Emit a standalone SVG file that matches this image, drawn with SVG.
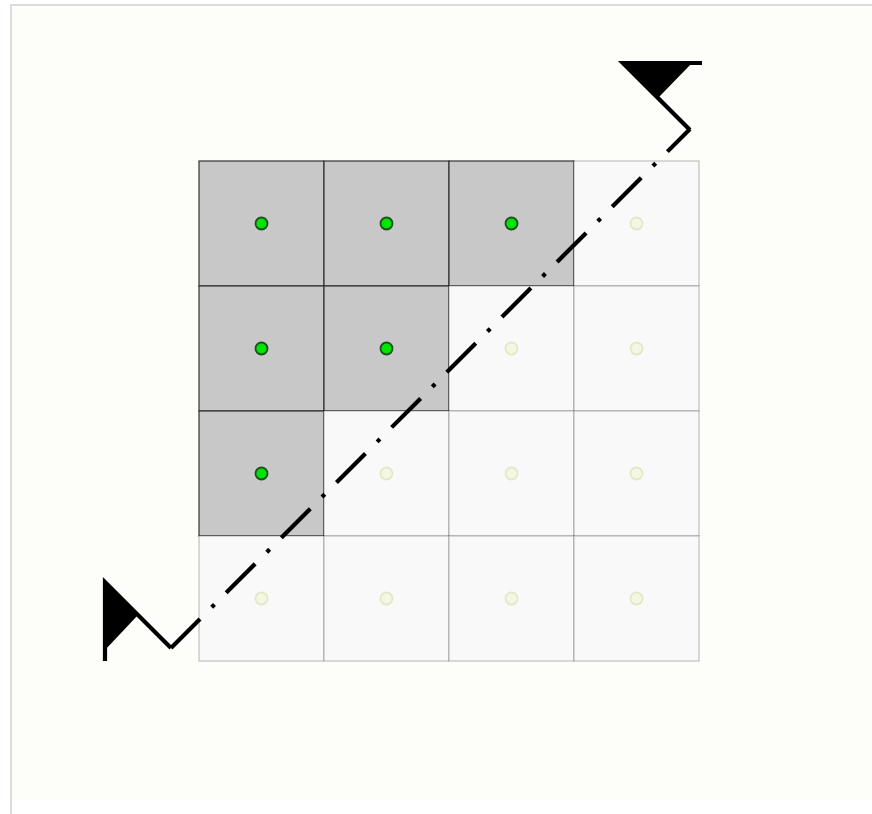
<svg xmlns="http://www.w3.org/2000/svg" width="872" height="814" viewBox="0 0 872 814">
<style>
.dark{fill:#c8c8c8;stroke:#333;stroke-width:1.2}
.light{fill:#f9f9fa;stroke:rgba(0,0,0,0.24);stroke-width:1.2}
.on{fill:#00e600;stroke:#1f4f1f;stroke-width:1.8}
.off{fill:#f5f7e4;stroke:#e3e9c6;stroke-width:1.8}
.cut{fill:none;stroke:#000;stroke-width:4.2}
.tri{fill:#000}
</style>
<rect x="0" y="0" width="872" height="814" fill="#ffffff"/>
<rect x="11" y="5" width="861" height="795" fill="#fdfdfa"/>
<path d="M11,814 V5 H872" fill="none" stroke="#dcdcdc" stroke-width="2"/>
<g id="cells">
<g id="c00"><rect class="dark" x="199" y="161" width="125" height="125"/><circle class="on" cx="261.5" cy="223.5" r="6"/></g>
<g id="c01"><rect class="dark" x="324" y="161" width="125" height="125"/><circle class="on" cx="386.5" cy="223.5" r="6"/></g>
<g id="c02"><rect class="dark" x="449" y="161" width="125" height="125"/><circle class="on" cx="511.5" cy="223.5" r="6"/></g>
<g id="c03"><rect class="light" x="574" y="161" width="125" height="125"/><circle class="off" cx="636.5" cy="223.5" r="6"/></g>
<g id="c10"><rect class="dark" x="199" y="286" width="125" height="125"/><circle class="on" cx="261.5" cy="348.5" r="6"/></g>
<g id="c11"><rect class="dark" x="324" y="286" width="125" height="125"/><circle class="on" cx="386.5" cy="348.5" r="6"/></g>
<g id="c12"><rect class="light" x="449" y="286" width="125" height="125"/><circle class="off" cx="511.5" cy="348.5" r="6"/></g>
<g id="c13"><rect class="light" x="574" y="286" width="125" height="125"/><circle class="off" cx="636.5" cy="348.5" r="6"/></g>
<g id="c20"><rect class="dark" x="199" y="411" width="125" height="125"/><circle class="on" cx="261.5" cy="473.5" r="6"/></g>
<g id="c21"><rect class="light" x="324" y="411" width="125" height="125"/><circle class="off" cx="386.5" cy="473.5" r="6"/></g>
<g id="c22"><rect class="light" x="449" y="411" width="125" height="125"/><circle class="off" cx="511.5" cy="473.5" r="6"/></g>
<g id="c23"><rect class="light" x="574" y="411" width="125" height="125"/><circle class="off" cx="636.5" cy="473.5" r="6"/></g>
<g id="c30"><rect class="light" x="199" y="536" width="125" height="125"/><circle class="off" cx="261.5" cy="598.5" r="6"/></g>
<g id="c31"><rect class="light" x="324" y="536" width="125" height="125"/><circle class="off" cx="386.5" cy="598.5" r="6"/></g>
<g id="c32"><rect class="light" x="449" y="536" width="125" height="125"/><circle class="off" cx="511.5" cy="598.5" r="6"/></g>
<g id="c33"><rect class="light" x="574" y="536" width="125" height="125"/><circle class="off" cx="636.5" cy="598.5" r="6"/></g>
</g>
<g id="section-line">
<path class="cut" d="M171,648 L690,129" stroke-dasharray="41 16.5 4 16.5"/>
<path class="cut" d="M105,661 V582 L171,648"/>
<polygon class="tri" points="105,582 105,650 138,615"/>
<path class="cut" d="M702,63 H623 L690,130"/>
<polygon class="tri" points="623,63 692,63 658,98"/>
</g>
</svg>
